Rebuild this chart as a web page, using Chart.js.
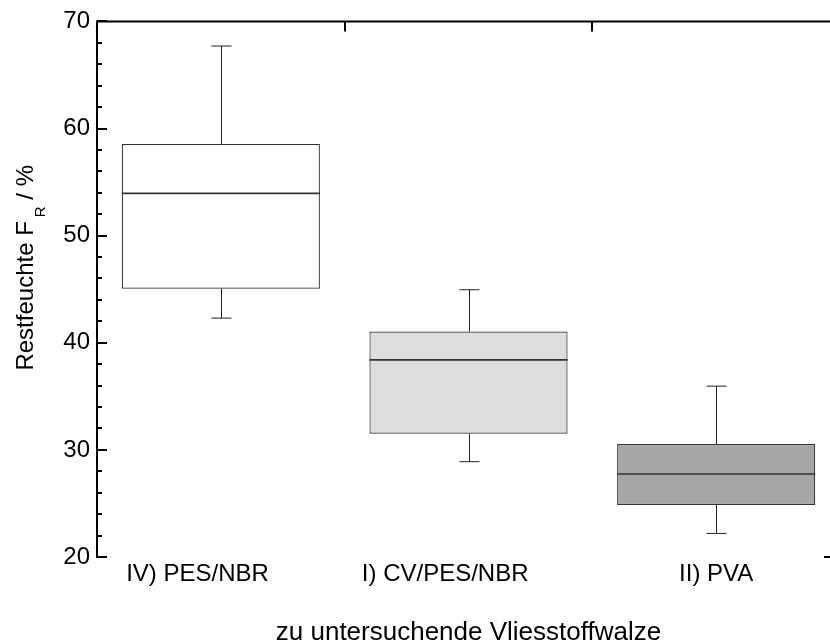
<!DOCTYPE html>
<html><head><meta charset="utf-8">
<script src="https://cdn.jsdelivr.net/npm/chart.js@4"></script>
<style>
html,body{margin:0;padding:0;background:#fff;overflow:hidden}
#wrap{width:830px;height:642px;overflow:hidden;position:relative;background:#fff}
#box{width:850px;height:642px;position:absolute;left:0;top:0}
</style></head><body>
<div id="wrap"><div id="box"><canvas id="c" width="850" height="642"></canvas></div></div>
<script>
// ---- data ----
const categories = ['IV) PES/NBR', 'I) CV/PES/NBR', 'II) PVA'];
const tickLabels = ['IV) PES/NBR       ', 'I) CV/PES/NBR       ', 'II) PVA'];
const whiskerLow  = [42.3, 28.9, 22.2];
const q1          = [45.05, 31.5, 24.85];
const median      = [53.95, 38.4, 27.75];
const q3          = [58.55, 41.05, 30.55];
const whiskerHigh = [67.7, 44.95, 35.95];
const boxColors   = ['#ffffff', '#dcdddc', '#a6a6a6'];
const yMin = 20, yMax = 70, yMajorStep = 10, yMinorStep = 2;
const yTitleMain = 'Restfeuchte F', yTitleSub = 'R', yTitleUnit = '/ %';
const xTitle = 'zu untersuchende Vliesstoffwalze';

const FONT = '"Liberation Sans", Arial, sans-serif';

const boxPlugin = {
  id: 'boxparts',
  afterDatasetsDraw(chart) {
    const ctx = chart.ctx, y = chart.scales.y;
    const meta = chart.getDatasetMeta(0);
    ctx.save();
    meta.data.forEach((bar, i) => {
      const x = Math.round(bar.x) + 0.5;
      const half = bar.width / 2;
      const cap = 10;
      ctx.strokeStyle = '#222';
      ctx.lineWidth = 1;
      ctx.beginPath();
      ctx.moveTo(x, y.getPixelForValue(q3[i])); ctx.lineTo(x, y.getPixelForValue(whiskerHigh[i]));
      ctx.moveTo(x - cap, y.getPixelForValue(whiskerHigh[i])); ctx.lineTo(x + cap, y.getPixelForValue(whiskerHigh[i]));
      ctx.moveTo(x, y.getPixelForValue(q1[i])); ctx.lineTo(x, y.getPixelForValue(whiskerLow[i]));
      ctx.moveTo(x - cap, y.getPixelForValue(whiskerLow[i])); ctx.lineTo(x + cap, y.getPixelForValue(whiskerLow[i]));
      ctx.stroke();
      ctx.strokeStyle = '#333';
      ctx.lineWidth = 1.6;
      ctx.beginPath();
      const ym = y.getPixelForValue(median[i]);
      ctx.moveTo(bar.x - half, ym); ctx.lineTo(bar.x + half, ym);
      ctx.stroke();
    });
    ctx.restore();
  },
  afterDraw(chart) {
    const ctx = chart.ctx, a = chart.chartArea, y = chart.scales.y, xs = chart.scales.x;
    ctx.save();
    ctx.strokeStyle = '#000';
    ctx.lineWidth = 2;
    ctx.beginPath();
    ctx.moveTo(a.left, a.top - 1); ctx.lineTo(a.left, a.bottom + 1);
    ctx.moveTo(a.left - 1, a.top); ctx.lineTo(a.right, a.top);
    ctx.stroke();
    ctx.beginPath();
    for (let v = yMin; v <= yMax; v += yMinorStep) {
      const py = Math.round(y.getPixelForValue(v));
      const len = (v % yMajorStep === 0) ? 10 : 5;
      ctx.moveTo(a.left, py); ctx.lineTo(a.left + len, py);
    }
    for (let i = 0; i < categories.length - 1; i++) {
      const bx = Math.round((xs.getPixelForValue(i) + xs.getPixelForValue(i + 1)) / 2);
      ctx.moveTo(bx, a.top); ctx.lineTo(bx, a.top + 10);
    }
    const pyb = Math.round(y.getPixelForValue(yMin));
    ctx.moveTo(a.right - 16, pyb); ctx.lineTo(a.right, pyb);
    ctx.stroke();

    // y title
    ctx.fillStyle = '#000';
    ctx.textBaseline = 'alphabetic';
    ctx.textAlign = 'left';
    const mid = y.getPixelForValue(47.0);
    ctx.font = '24px ' + FONT;
    const w1 = ctx.measureText(yTitleMain).width;
    ctx.font = '15px ' + FONT;
    const w2 = ctx.measureText(yTitleSub).width;
    ctx.font = '24px ' + FONT;
    const wsp = ctx.measureText(' ').width;
    const w3 = ctx.measureText(yTitleUnit).width;
    const total = w1 + 4 + w2 + wsp + w3;
    ctx.translate(33, mid + total / 2);
    ctx.rotate(-Math.PI / 2);
    ctx.fillText(yTitleMain, 0, 0);
    ctx.font = '15px ' + FONT;
    ctx.fillText(yTitleSub, w1 + 4, 12);
    ctx.font = '24px ' + FONT;
    ctx.fillText(yTitleUnit, w1 + 4 + w2 + wsp, 0);
    ctx.setTransform(1, 0, 0, 1, 0, 0);
    // x title
    ctx.font = '26px ' + FONT;
    ctx.textAlign = 'center';
    ctx.fillText(xTitle, (a.left + a.right) / 2, 640);
    ctx.restore();
  }
};

new Chart(document.getElementById('c'), {
  type: 'bar',
  data: {
    labels: tickLabels,
    datasets: [{
      data: categories.map((c, i) => [q1[i], q3[i]]),
      backgroundColor: boxColors,
      borderColor: '#333',
      borderWidth: 1.2,
      borderSkipped: false,
      barPercentage: 0.8,
      categoryPercentage: 1.0
    }]
  },
  options: {
    responsive: false,
    animation: false,
    devicePixelRatio: 1,
    layout: { padding: { top: 19, right: 10, left: 0, bottom: 0 } },
    plugins: { legend: { display: false }, tooltip: { enabled: false }, title: { display: false } },
    scales: {
      x: {
        type: 'category',
        offset: true,
        grid: { display: false, drawTicks: false },
        border: { display: false },
        ticks: { color: '#000', font: { family: FONT, size: 24 }, padding: 3, maxRotation: 0, autoSkip: false },
        afterFit: s => { s.height = 85; }
      },
      y: {
        min: yMin, max: yMax,
        grid: { display: false, drawTicks: false },
        border: { display: false },
        ticks: { stepSize: yMajorStep, color: '#000', font: { family: FONT, size: 24 }, padding: 7 },
        afterFit: s => { s.width = 97; }
      }
    }
  },
  plugins: [boxPlugin]
});
</script>
</body></html>
